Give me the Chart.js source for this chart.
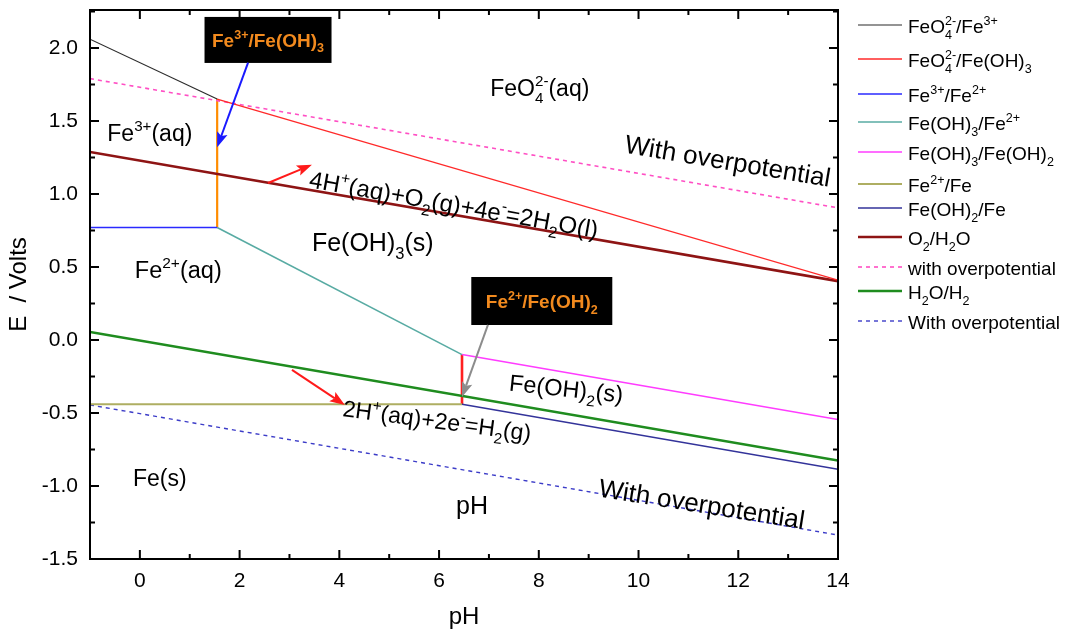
<!DOCTYPE html>
<html>
<head>
<meta charset="utf-8">
<script src="https://cdn.jsdelivr.net/npm/chart.js@4.4.1/dist/chart.umd.min.js"></script>
<style>
  html, body { margin: 0; padding: 0; background: #fff; }
</style>
</head>
<body>
<canvas id="myChart" width="1065" height="632"></canvas>
<script>
// axis ranges and ticks
const xMin = -1, xMax = 14
const yMin = -1.5, yMax = 2.26
const xTicks = [0, 2, 4, 6, 8, 10, 12, 14]
const yTicks = [-1.5, -1.0, -0.5, 0.0, 0.5, 1.0, 1.5, 2.0]

// boundary lines (pH, E in volts)
const feo4Fe3pH = [-1, 1.55]
const feo4Fe3E = [2.06, 1.65]
const feo4FeOH3pH = [1.55, 14]
const feo4FeOH3E = [1.65, 0.41]
const fe3Fe2pH = [-1, 1.55]
const fe3Fe2E = [0.77, 0.77]
const feOH3Fe2pH = [1.55, 6.46]
const feOH3Fe2E = [0.77, -0.10]
const feOH3FeOH2pH = [6.46, 14]
const feOH3FeOH2E = [-0.10, -0.545]
const fe2FepH = [-1, 6.46]
const fe2FeE = [-0.44, -0.44]
const feOH2FepH = [6.46, 14]
const feOH2FeE = [-0.44, -0.885]
const waterpH = [-1, 14]
const o2H2OE = [1.288, 0.403]
const o2OverE = [1.79, 0.905]
const h2oH2E = [0.055, -0.826]
const h2OverE = [-0.445, -1.336]
const fe3FeOH3pH = [1.55, 1.55]
const fe3FeOH3E = [0.77, 1.65]
const fe2FeOH2pH = [6.46, 6.46]
const fe2FeOH2E = [-0.10, -0.44]

const family = '"Liberation Sans", Arial, sans-serif'
Chart.defaults.font.family = family
Chart.defaults.color = '#000'

function pts(xs, ys) {
  return xs.map((x, i) => ({ x: x, y: ys[i] }))
}

// rich text: ^{..} superscript, _{..} subscript
function richParts(str) {
  const parts = []
  const re = /([_^])\{([^}]*)\}|([^_^]+)/g
  let m
  while ((m = re.exec(str))) {
    if (m[3]) parts.push({ t: m[3], k: 'n' })
    else parts.push({ t: m[2], k: m[1] === '^' ? 'sup' : 'sub' })
  }
  return parts
}

function layoutRich(ctx, str, size, weight) {
  const items = []
  let x = 0, prevKind = 'n', prevStart = 0
  richParts(str).forEach(p => {
    const fs = p.k === 'n' ? size : size * 0.66
    ctx.font = weight + ' ' + fs + 'px ' + family
    const w = ctx.measureText(p.t).width
    let px = x
    if (p.k !== 'n' && prevKind !== 'n' && prevKind !== p.k) {
      px = prevStart
      x = Math.max(x, px + w)
    } else {
      x = px + w
    }
    prevStart = px
    const dy = p.k === 'sup' ? -size * 0.42 : (p.k === 'sub' ? size * 0.3 : 0)
    items.push({ t: p.t, x: px, dy: dy, fs: fs })
    prevKind = p.k
  })
  return { items: items, width: x }
}

// x,y = anchor; y is visual middle of the capitals
function drawRich(ctx, str, x, y, size, opt) {
  opt = opt || {}
  const weight = opt.weight || 'normal'
  const lay = layoutRich(ctx, str, size, weight)
  ctx.save()
  ctx.translate(x, y)
  if (opt.angle) ctx.rotate(opt.angle * Math.PI / 180)
  const x0 = opt.align === 'left' ? 0 : -lay.width / 2
  ctx.fillStyle = opt.color || '#000'
  ctx.textBaseline = 'alphabetic'
  ctx.textAlign = 'left'
  lay.items.forEach(it => {
    ctx.font = weight + ' ' + it.fs + 'px ' + family
    ctx.fillText(it.t, x0 + it.x, size * 0.36 + it.dy)
  })
  ctx.restore()
}

// region labels and equations, placed in data units
const notes = [
  { text: 'FeO_{4}^{2-}(aq)', x: 8.02, y: 1.73, angle: 0, size: 23 },
  { text: 'Fe^{3+}(aq)', x: 0.2, y: 1.42, angle: 0, size: 23 },
  { text: 'With overpotential', x: 11.79, y: 1.23, angle: 9.5, size: 26 },
  { text: '4H^{+}(aq)+O_{2}(g)+4e^{-}=2H_{2}O(l)', x: 6.3, y: 0.93, angle: 10, size: 24 },
  { text: 'Fe(OH)_{3}(s)', x: 4.67, y: 0.67, angle: 0, size: 25 },
  { text: 'Fe^{2+}(aq)', x: 0.77, y: 0.48, angle: 0, size: 23.5 },
  { text: 'Fe(OH)_{2}(s)', x: 8.55, y: -0.33, angle: 6, size: 23.5 },
  { text: '2H^{+}(aq)+2e^{-}=H_{2}(g)', x: 5.96, y: -0.55, angle: 7.5, size: 23 },
  { text: 'Fe(s)', x: 0.4, y: -0.94, angle: 0, size: 23 },
  { text: 'pH', x: 6.66, y: -1.13, angle: 0, size: 25 },
  { text: 'With overpotential', x: 11.27, y: -1.12, angle: 9, size: 26 }
]

const callouts = [
  { text: 'Fe^{3+}/Fe(OH)_{3}', x: 2.57, y: 2.055, w: 127, h: 46 },
  { text: 'Fe^{2+}/Fe(OH)_{2}', x: 8.06, y: 0.267, w: 141, h: 48 }
]

const arrows = [
  { from: [2.17, 1.90], to: [1.55, 1.32], color: '#1a1aff' },
  { from: [2.57, 1.075], to: [3.45, 1.20], color: '#ff1a1a' },
  { from: [3.05, -0.205], to: [4.11, -0.445], color: '#ff1a1a' },
  { from: [6.98, 0.103], to: [6.46, -0.39], color: '#8c8c8c' }
]

// legend rows (pixel y of each sample line)
const legendRows = [25, 59, 94, 122, 152, 184, 208, 237, 267, 291, 321]

function drawArrow(ctx, x1, y1, x2, y2, color) {
  const a = Math.atan2(y2 - y1, x2 - x1)
  const hl = 15, hw = 5.5
  ctx.save()
  ctx.strokeStyle = color
  ctx.fillStyle = color
  ctx.lineWidth = 2
  ctx.beginPath()
  ctx.moveTo(x1, y1)
  ctx.lineTo(x2 - Math.cos(a) * hl * 0.8, y2 - Math.sin(a) * hl * 0.8)
  ctx.stroke()
  ctx.translate(x2, y2)
  ctx.rotate(a)
  ctx.beginPath()
  ctx.moveTo(0, 0)
  ctx.lineTo(-hl, -hw)
  ctx.lineTo(-hl * 0.8, 0)
  ctx.lineTo(-hl, hw)
  ctx.closePath()
  ctx.fill()
  ctx.restore()
}

const decorPlugin = {
  id: 'decor',
  afterDatasetsDraw(chart) {
    const ctx = chart.ctx
    const xs = chart.scales.x, ys = chart.scales.y
    const area = chart.chartArea

    // inward ticks on all four sides
    ctx.save()
    ctx.strokeStyle = '#000'
    ctx.lineWidth = 2
    ctx.beginPath()
    for (let v = xMin; v <= xMax; v++) {
      const px = xs.getPixelForValue(v)
      const len = v % 2 === 0 ? 9 : 5
      ctx.moveTo(px, area.bottom); ctx.lineTo(px, area.bottom - len)
      ctx.moveTo(px, area.top); ctx.lineTo(px, area.top + len)
    }
    for (let v = yMin; v <= yMax + 1e-9; v += 0.25) {
      const py = ys.getPixelForValue(v)
      const len = Math.abs(v * 2 - Math.round(v * 2)) < 1e-6 ? 9 : 5
      ctx.moveTo(area.left, py); ctx.lineTo(area.left + len, py)
      ctx.moveTo(area.right, py); ctx.lineTo(area.right - len, py)
    }
    ctx.stroke()
    ctx.strokeRect(area.left, area.top, area.right - area.left, area.bottom - area.top)
    ctx.restore()

    notes.forEach(n => {
      drawRich(ctx, n.text, xs.getPixelForValue(n.x), ys.getPixelForValue(n.y), n.size, { angle: n.angle })
    })

    callouts.forEach(c => {
      const cx = xs.getPixelForValue(c.x), cy = ys.getPixelForValue(c.y)
      ctx.save()
      ctx.fillStyle = '#000'
      ctx.fillRect(cx - c.w / 2, cy - c.h / 2, c.w, c.h)
      ctx.restore()
      drawRich(ctx, c.text, cx, cy, 19, { weight: 'bold', color: '#f28a1e' })
    })

    arrows.forEach(a => {
      drawArrow(ctx, xs.getPixelForValue(a.from[0]), ys.getPixelForValue(a.from[1]),
        xs.getPixelForValue(a.to[0]), ys.getPixelForValue(a.to[1]), a.color)
    })
  },
  afterDraw(chart) {
    // legend with sub/superscripts
    const ctx = chart.ctx
    const items = chart.data.datasets.filter(d => d.inLegend !== false)
    items.forEach((d, i) => {
      const y = legendRows[i]
      ctx.save()
      ctx.strokeStyle = d.borderColor
      ctx.lineWidth = d.borderWidth
      ctx.setLineDash(d.borderDash || [])
      ctx.beginPath()
      ctx.moveTo(858, y)
      ctx.lineTo(902, y)
      ctx.stroke()
      ctx.restore()
      drawRich(ctx, d.label, 908, y + 1, 19, { align: 'left' })
    })
  }
}

const lineStyle = { pointRadius: 0, fill: false, tension: 0 }

const data = {
  datasets: [
    { label: 'FeO_{4}^{2-}/Fe^{3+}', data: pts(feo4Fe3pH, feo4Fe3E), borderColor: '#2b2b2b', borderWidth: 1.2, ...lineStyle },
    { label: 'FeO_{4}^{2-}/Fe(OH)_{3}', data: pts(feo4FeOH3pH, feo4FeOH3E), borderColor: '#ff2a2a', borderWidth: 1.4, ...lineStyle },
    { label: 'Fe^{3+}/Fe^{2+}', data: pts(fe3Fe2pH, fe3Fe2E), borderColor: '#2a2aff', borderWidth: 1.4, ...lineStyle },
    { label: 'Fe(OH)_{3}/Fe^{2+}', data: pts(feOH3Fe2pH, feOH3Fe2E), borderColor: '#58aba3', borderWidth: 1.6, ...lineStyle },
    { label: 'Fe(OH)_{3}/Fe(OH)_{2}', data: pts(feOH3FeOH2pH, feOH3FeOH2E), borderColor: '#ff3cff', borderWidth: 1.6, ...lineStyle },
    { label: 'Fe^{2+}/Fe', data: pts(fe2FepH, fe2FeE), borderColor: '#aeae62', borderWidth: 2, ...lineStyle },
    { label: 'Fe(OH)_{2}/Fe', data: pts(feOH2FepH, feOH2FeE), borderColor: '#33339a', borderWidth: 1.4, ...lineStyle },
    { label: 'O_{2}/H_{2}O', data: pts(waterpH, o2H2OE), borderColor: '#8e1414', borderWidth: 2.6, ...lineStyle },
    { label: 'with overpotential', data: pts(waterpH, o2OverE), borderColor: '#ff4fc4', borderWidth: 1.6, borderDash: [4, 4], ...lineStyle },
    { label: 'H_{2}O/H_{2}', data: pts(waterpH, h2oH2E), borderColor: '#1f8c1f', borderWidth: 2.6, ...lineStyle },
    { label: 'With overpotential', data: pts(waterpH, h2OverE), borderColor: '#3c3cc8', borderWidth: 1.4, borderDash: [4, 4], ...lineStyle },
    { label: 'Fe3+/Fe(OH)3', inLegend: false, data: pts(fe3FeOH3pH, fe3FeOH3E), borderColor: '#ff8c00', borderWidth: 2.2, ...lineStyle },
    { label: 'Fe2+/Fe(OH)2', inLegend: false, data: pts(fe2FeOH2pH, fe2FeOH2E), borderColor: '#ff2020', borderWidth: 2.6, ...lineStyle }
  ]
}

const config = {
  type: 'line',
  data: data,
  options: {
    responsive: false,
    animation: false,
    layout: { padding: { top: 10, right: 227, left: 0, bottom: 0 } },
    plugins: {
      legend: { display: false },
      tooltip: { enabled: false }
    },
    scales: {
      x: {
        type: 'linear',
        min: xMin,
        max: xMax,
        grid: { display: false, drawTicks: false },
        border: { display: false },
        afterBuildTicks: s => { s.ticks = xTicks.map(v => ({ value: v })) },
        afterFit: s => { s.height = 73; s.paddingLeft = 0; s.paddingRight = 0 },
        ticks: { padding: 10, font: { size: 21 }, callback: v => String(v) },
        title: { display: true, text: 'pH', font: { size: 24 }, padding: 0 }
      },
      y: {
        type: 'linear',
        min: yMin,
        max: yMax,
        grid: { display: false, drawTicks: false },
        border: { display: false },
        afterBuildTicks: s => { s.ticks = yTicks.map(v => ({ value: v })) },
        afterFit: s => { s.width = 90; s.paddingTop = 0; s.paddingBottom = 0 },
        ticks: { padding: 12, font: { size: 21 }, callback: v => v.toFixed(1) },
        title: { display: true, text: 'E  / Volts', font: { size: 24 }, padding: { top: 5 } }
      }
    }
  },
  plugins: [decorPlugin]
}

const myChart = new Chart(document.getElementById('myChart'), config)
</script>
</body>
</html>
